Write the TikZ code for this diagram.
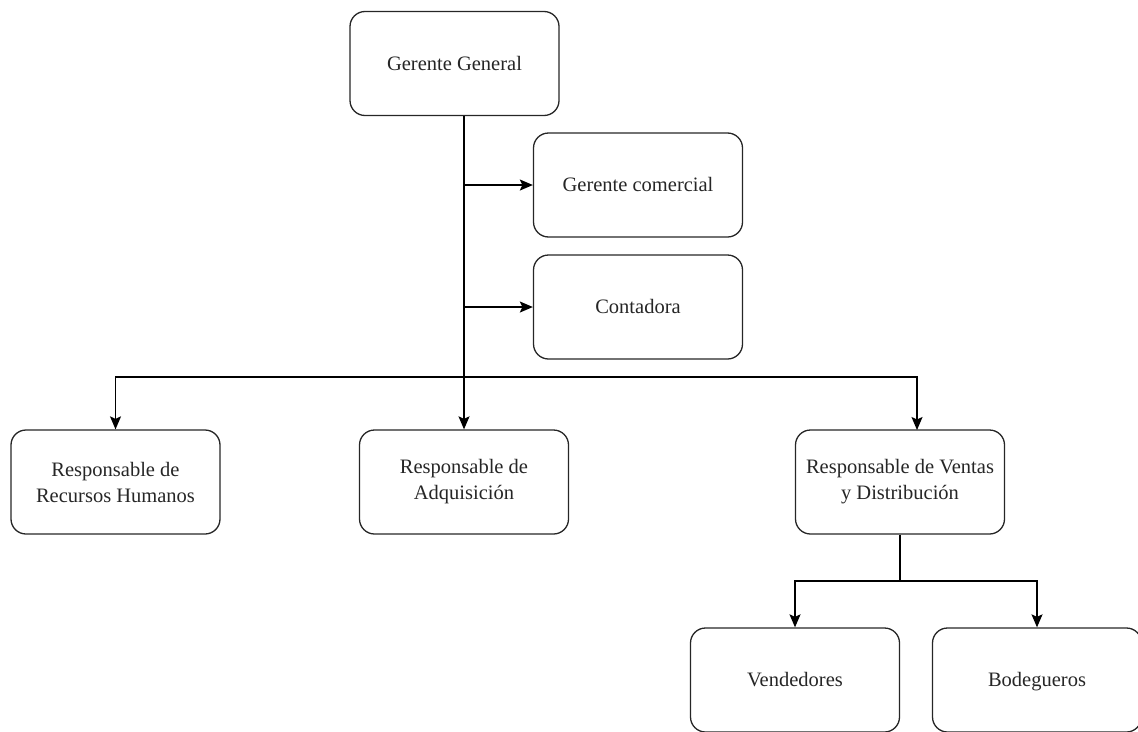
\documentclass[tikz,border=0pt]{standalone}
\usepackage{fontspec}
\setmainfont{Liberation Serif}
\usetikzlibrary{arrows.meta,calc}
\begin{document}
\begin{tikzpicture}[x=1pt,y=-1pt,
  orgbox/.style={draw=black!85, line width=1.3pt, rounded corners=15pt, minimum width=209pt, minimum height=104pt, align=center, inner sep=2pt, font=\fontsize{20.5}{26}\selectfont, text=black!85},
  oneline/.style={text height=15pt, text depth=2pt},
  conn/.style={draw=black, line width=1.4pt},
  arr/.style={conn, -{Stealth[length=13pt,width=11pt,inset=2.5pt]}}
]
\useasboundingbox (0,0) rectangle (1138,731);
\node[orgbox,oneline] (gg) at (454.5,63.5) {Gerente General};
\node[orgbox,oneline] (gc) at (638,185) {Gerente comercial};
\node[orgbox,oneline] (cont) at (638,307) {Contadora};
\node[orgbox] (rrhh) at (115.5,482) {Responsable de\\Recursos Humanos};
\node[orgbox] (adq) at (464,482) {Responsable de\\Adquisición};
\node[orgbox] (ven) at (900,482) {Responsable de Ventas\\y Distribución};
\node[orgbox,oneline] (vend) at (795,680) {Vendedores};
\node[orgbox,oneline] (bod) at (1037,680) {Bodegueros};
\coordinate (top) at (464,116);
\coordinate (hb) at (464,377);
\coordinate (vtop) at (917,430);
\coordinate (vb) at (900,581);
\draw[arr] (top) -- (adq.north);
\draw[arr] (top |- gc.west) -- (gc.west);
\draw[arr] (top |- cont.west) -- (cont.west);
\draw[arr] (hb) -| (rrhh.north);
\draw[arr] (hb) -| (vtop);
\draw[conn] (ven.south) -- (vb);
\draw[arr] (vb) -| (vend.north);
\draw[arr] (vb) -| (bod.north);
\end{tikzpicture}
\end{document}
